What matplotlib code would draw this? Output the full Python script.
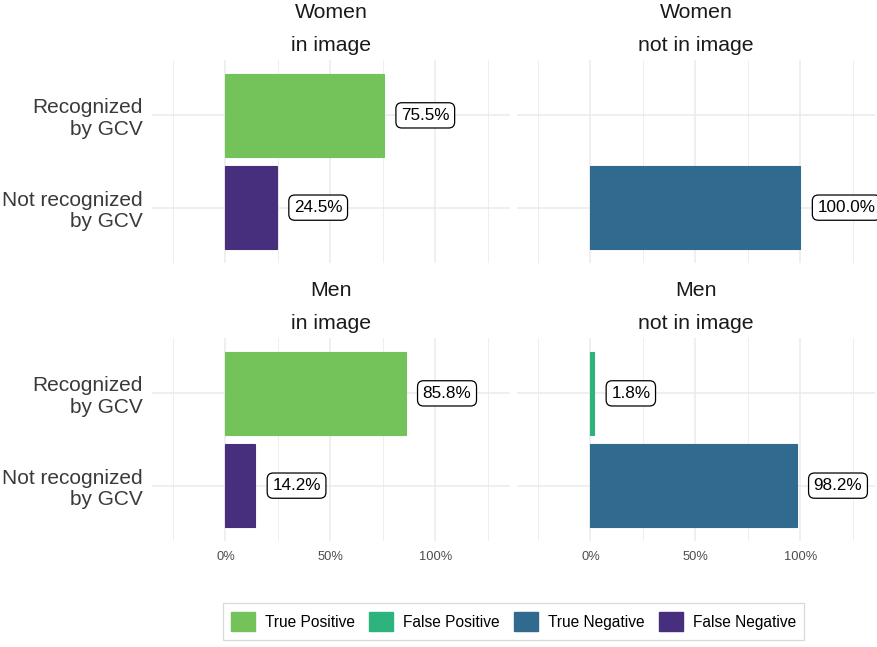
import numpy as np
import matplotlib
matplotlib.use("Agg")
import matplotlib.pyplot as plt
from matplotlib.patches import Patch
from matplotlib.ticker import MultipleLocator, FuncFormatter

plt.rcParams["font.family"] = ["Liberation Sans", "DejaVu Sans"]

# data (percent of people in each panel)
categories = ["Recognized\nby GCV", "Not recognized\nby GCV"]
genders = ["Women", "Men"]
presence = ["in image", "not in image"]
women_in_image = [75.5, 24.5]
women_not_in_image = [np.nan, 100.0]
men_in_image = [85.8, 14.2]
men_not_in_image = [1.8, 98.2]

outcomes = ["True Positive", "False Positive", "True Negative", "False Negative"]
outcome_colors = {
    "True Positive": "#74C25A",
    "False Positive": "#2EB37C",
    "True Negative": "#306B8F",
    "False Negative": "#472F7D",
}
# outcome for (presence, category)
outcome_map = {
    "in image": ["True Positive", "False Negative"],
    "not in image": ["False Positive", "True Negative"],
}
panel_values = {
    ("Women", "in image"): women_in_image,
    ("Women", "not in image"): women_not_in_image,
    ("Men", "in image"): men_in_image,
    ("Men", "not in image"): men_not_in_image,
}

W, H = 878, 647
fig = plt.figure(figsize=(W / 100, H / 100), dpi=100)

grid_col = "#EBEBEB"
lefts = [152, 517]
tops = [60, 338]
pw, ph = 358, 203

for r, g in enumerate(genders):
    for c, p in enumerate(presence):
        ax = fig.add_axes([lefts[c] / W, 1 - (tops[r] + ph) / H, pw / W, ph / H])
        vals = np.array(panel_values[(g, p)]) / 100
        ypos = np.arange(1, len(categories) + 1)
        for y, v, oc in zip(ypos, vals, outcome_map[p]):
            if np.isnan(v):
                continue
            col = outcome_colors[oc]
            ax.barh(y, v, height=0.9, color=col, edgecolor=col, linewidth=0.8, zorder=2)
            ax.text(v + 0.081, y, f"{v * 100:.1f}%", ha="left", va="center",
                    fontsize=12.3, color="black", zorder=3, clip_on=False,
                    bbox=dict(boxstyle="round,pad=0.3,rounding_size=0.35",
                              fc="white", ec="black", lw=0.9))
        ax.set_xlim(-0.35, 1.355)
        ax.set_ylim(2.6, 0.4)
        ax.xaxis.set_major_locator(MultipleLocator(0.5))
        ax.xaxis.set_minor_locator(MultipleLocator(0.25))
        ax.xaxis.set_major_formatter(FuncFormatter(lambda x, _: f"{x * 100:.0f}%"))
        ax.set_yticks(ypos)
        ax.grid(True, which="major", color=grid_col, lw=1.1, zorder=0)
        ax.grid(True, which="minor", axis="x", color=grid_col, lw=0.6, zorder=0)
        ax.set_axisbelow(True)
        for s in ax.spines.values():
            s.set_visible(False)
        ax.tick_params(which="both", length=0)
        ax.tick_params(axis="x", labelsize=9.3, labelcolor="#4D4D4D", pad=7)
        if c == 0:
            ax.set_yticklabels(categories, fontsize=15, color="#3A3A3A",
                               linespacing=1.18)
            ax.tick_params(axis="y", pad=7)
        else:
            ax.set_yticklabels([])
        if r == 0:
            ax.set_xticklabels([])
        # facet strip titles
        ax.annotate(g, xy=(0.5, 1), xycoords="axes fraction", xytext=(0, 34.5),
                    textcoords="offset points", ha="center", va="center",
                    fontsize=15.3, color="#1A1A1A")
        ax.annotate(p, xy=(0.5, 1), xycoords="axes fraction", xytext=(0, 10.5),
                    textcoords="offset points", ha="center", va="center",
                    fontsize=15.3, color="#1A1A1A")

handles = [Patch(facecolor=outcome_colors[o], edgecolor=outcome_colors[o]) for o in outcomes]
leg = fig.legend(handles, outcomes, loc="center", bbox_to_anchor=(513.5 / W, 1 - 621.5 / H),
                 ncol=4, fontsize=11.2, frameon=True, fancybox=False,
                 handlelength=1.55, handleheight=1.6, handletextpad=0.64,
                 columnspacing=0.9, borderpad=0.55, edgecolor="#D0D0D0")
leg.get_frame().set_linewidth(0.9)

fig.savefig("out.png", dpi=100, facecolor="white")
